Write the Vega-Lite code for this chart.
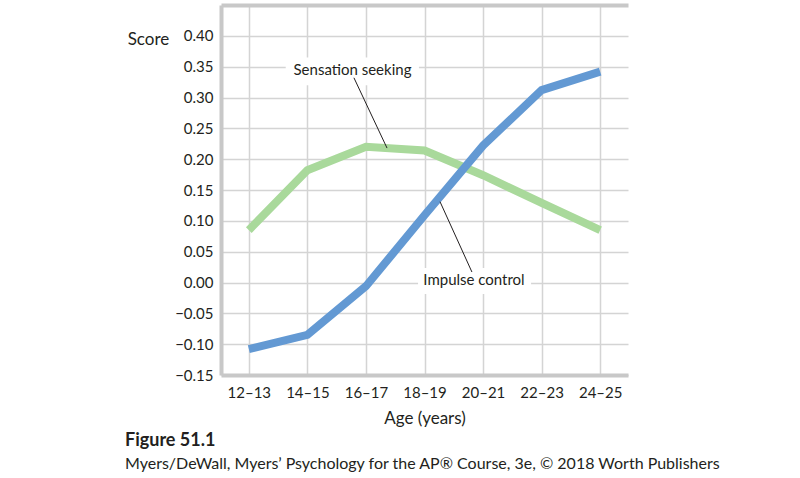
{
  "$schema": "https://vega.github.io/schema/vega-lite/v6.json",
  "width": 407,
  "height": 370,
  "autosize": {"type": "none"},
  "padding": {"left": 221, "top": 5, "right": 172, "bottom": 103},
  "background": "white",
  "title": {
    "text": "Figure 51.1",
    "subtitle": "Myers/DeWall, Myers’ Psychology for the AP® Course, 3e, © 2018 Worth Publishers",
    "orient": "bottom",
    "anchor": "start",
    "frame": "group",
    "dx": -96,
    "offset": 6,
    "font": "Lato",
    "fontSize": 18,
    "fontWeight": "bold",
    "color": "#231f20",
    "subtitleFont": "Lato",
    "subtitleFontSize": 16,
    "subtitleColor": "#231f20",
    "subtitlePadding": 6
  },
  "datasets": {
    "series": [
      {"age": 12.5, "series": "Impulse control", "score": -0.108},
      {"age": 14.5, "series": "Impulse control", "score": -0.085},
      {"age": 16.5, "series": "Impulse control", "score": -0.006},
      {"age": 18.5, "series": "Impulse control", "score": 0.109},
      {"age": 20.5, "series": "Impulse control", "score": 0.222},
      {"age": 22.5, "series": "Impulse control", "score": 0.312},
      {"age": 24.5, "series": "Impulse control", "score": 0.342},
      {"age": 12.5, "series": "Sensation seeking", "score": 0.085},
      {"age": 14.5, "series": "Sensation seeking", "score": 0.182},
      {"age": 16.5, "series": "Sensation seeking", "score": 0.220},
      {"age": 18.5, "series": "Sensation seeking", "score": 0.214},
      {"age": 20.5, "series": "Sensation seeking", "score": 0.174},
      {"age": 22.5, "series": "Sensation seeking", "score": 0.129},
      {"age": 24.5, "series": "Sensation seeking", "score": 0.085}
    ],
    "labels": [
      {"label": "Sensation seeking", "age": 16.04, "score": 0.345, "x1": 13.76, "x2": 18.31, "y1": 0.365, "y2": 0.32, "lx1": 16.09, "ly1": 0.332, "lx2": 17.22, "ly2": 0.218},
      {"label": "Impulse control", "age": 20.19, "score": 0.004, "x1": 18.28, "x2": 22.14, "y1": 0.0235, "y2": -0.0187, "lx1": 19.03, "ly1": 0.131, "lx2": 20.12, "ly2": 0.017}
    ]
  },
  "layer": [
    {
      "data": {"name": "labels"},
      "mark": {"type": "rect", "fill": "white"},
      "encoding": {
        "x": {"field": "x1", "type": "quantitative"},
        "x2": {"field": "x2"},
        "y": {"field": "y1", "type": "quantitative"},
        "y2": {"field": "y2"}
      }
    },
    {
      "data": {"name": "series"},
      "transform": [{"filter": "datum.series == 'Sensation seeking'"}],
      "mark": {"type": "line", "color": "#a9d99b", "strokeWidth": 8},
      "encoding": {
        "x": {
          "field": "age",
          "type": "quantitative",
          "scale": {"domain": [11.55, 25.45], "nice": false, "zero": false},
          "axis": {
            "values": [12.5, 14.5, 16.5, 18.5, 20.5, 22.5, 24.5],
            "tickCount": 20,
            "labelExpr": "floor(datum.value) + '–' + (floor(datum.value) + 1)",
            "title": "Age (years)",
            "grid": true,
            "gridColor": "#d4d4d4",
            "gridWidth": 1.5,
            "domainColor": "#c8c8c8",
            "domainWidth": 4,
            "ticks": false,
            "labelPadding": 10,
            "labelFont": "Lato",
            "labelFontSize": 15,
            "labelColor": "#231f20",
            "labelFlush": false,
            "labelOverlap": false,
            "titleFont": "Lato",
            "titleFontSize": 17,
            "titleFontWeight": "normal",
            "titleColor": "#231f20",
            "titlePadding": 10
          }
        },
        "y": {
          "field": "score",
          "type": "quantitative",
          "scale": {"domain": [-0.15, 0.45], "nice": false, "zero": false},
          "axis": {
            "values": [-0.15, -0.1, -0.05, 0, 0.05, 0.1, 0.15, 0.2, 0.25, 0.3, 0.35, 0.4, 0.45],
            "tickCount": 20,
            "labelExpr": "datum.value > 0.44 ? '' : format(datum.value, '.2f')",
            "title": "Score",
            "grid": true,
            "gridColor": {"condition": {"test": "datum.value > 0.44", "value": "#c8c8c8"}, "value": "#d4d4d4"},
            "gridWidth": {"condition": {"test": "datum.value > 0.44", "value": 4}, "value": 1.5},
            "domainColor": "#c8c8c8",
            "domainWidth": 4,
            "ticks": false,
            "labelPadding": 8,
            "labelFont": "Lato",
            "labelFontSize": 15,
            "labelColor": "#231f20",
            "labelFlush": false,
            "labelOverlap": false,
            "titleAngle": 0,
            "titleX": -73,
            "titleY": 34,
            "titleAlign": "center",
            "titleBaseline": "middle",
            "titleFont": "Lato",
            "titleFontSize": 17,
            "titleFontWeight": "normal",
            "titleColor": "#231f20"
          }
        }
      }
    },
    {
      "data": {"name": "series"},
      "transform": [{"filter": "datum.series == 'Impulse control'"}],
      "mark": {"type": "line", "color": "#6399d3", "strokeWidth": 8},
      "encoding": {
        "x": {"field": "age", "type": "quantitative"},
        "y": {"field": "score", "type": "quantitative"}
      }
    },
    {
      "data": {"name": "labels"},
      "mark": {"type": "rule", "color": "#231f20", "strokeWidth": 1},
      "encoding": {
        "x": {"field": "lx1", "type": "quantitative"},
        "x2": {"field": "lx2"},
        "y": {"field": "ly1", "type": "quantitative"},
        "y2": {"field": "ly2"}
      }
    },
    {
      "data": {"name": "labels"},
      "mark": {"type": "text", "font": "Lato", "fontSize": 15, "color": "#231f20", "align": "center", "baseline": "middle"},
      "encoding": {
        "x": {"field": "age", "type": "quantitative"},
        "y": {"field": "score", "type": "quantitative"},
        "text": {"field": "label"}
      }
    }
  ],
  "config": {"view": {"stroke": null}}
}
